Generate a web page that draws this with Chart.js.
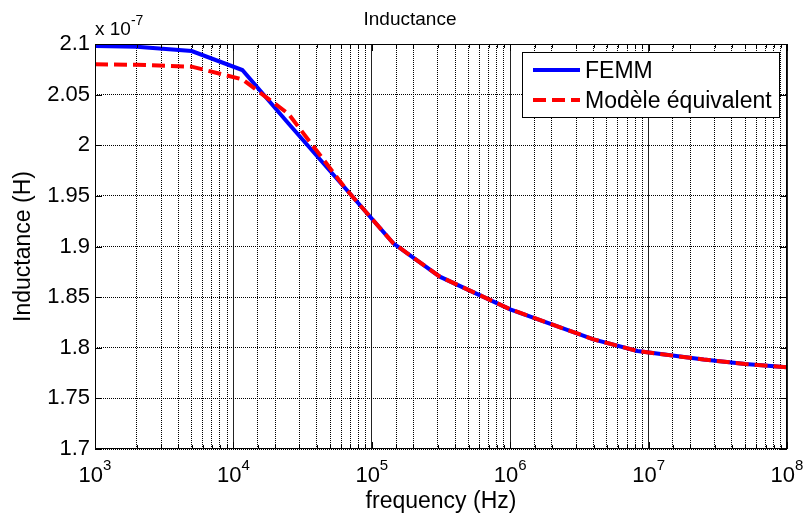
<!DOCTYPE html>
<html>
<head>
<meta charset="utf-8">
<script src="https://cdn.jsdelivr.net/npm/chart.js@4.4.0/dist/chart.umd.min.js"></script>
<style>
html,body{margin:0;padding:0;background:#fff;}
#wrap{width:806px;height:521px;position:relative;}
</style>
</head>
<body>
<div id="wrap"><canvas id="c" width="806" height="521"></canvas></div>
<script>
// ---- data (inductance in units of 1e-7 H) ----
const frequencies = [1e3, 2e3, 5e3, 1.16e4, 2.5e4, 6.5e4, 1.43e5, 3.1e5, 1e6, 4e6, 8.3e6, 2.5e7, 5e7, 1e8];
const femm   = [2.098, 2.0973, 2.093, 2.0743, 2.0215, 1.9568, 1.9032, 1.8702, 1.838, 1.8083, 1.7968, 1.7883, 1.784, 1.7807];
const modele = [2.080, 2.0795, 2.0776, 2.0651, 2.031, 1.9568, 1.9032, 1.8702, 1.838, 1.8083, 1.7968, 1.7883, 1.784, 1.7807];
const seriesNames = ['FEMM', 'Modèle équivalent'];
const yTickValues = [1.7, 1.75, 1.8, 1.85, 1.9, 1.95, 2, 2.05, 2.1];
const xDecadeExponents = [3, 4, 5, 6, 7, 8];
const yExponentLabel = '-7';
const chartTitle = 'Inductance';
const xTitle = 'frequency (Hz)';
const yTitle = 'Inductance (H)';

const FONT = "'Liberation Sans', Arial, Helvetica, sans-serif";
const isDecade = v => v > 0 && Math.abs(Math.log10(v) - Math.round(Math.log10(v))) < 1e-9;

const overlay = {
  id: 'overlay',
  afterDatasetsDraw(chart) {
    const {ctx, chartArea: a, scales: {x, y}} = chart;
    ctx.save();
    ctx.strokeStyle = '#000';
    ctx.lineWidth = 1;
    ctx.setLineDash([]);
    // inward ticks
    ctx.beginPath();
    yTickValues.forEach(v => {
      const py = Math.round(y.getPixelForValue(v)) + 0.5;
      ctx.moveTo(a.left, py); ctx.lineTo(a.left + 7, py);
      ctx.moveTo(a.right - 7, py); ctx.lineTo(a.right, py);
    });
    x.ticks.forEach(t => {
      const px = Math.round(x.getPixelForValue(t.value)) + 0.5;
      const len = isDecade(t.value) ? 7 : 4;
      ctx.moveTo(px, a.bottom); ctx.lineTo(px, a.bottom - len);
      ctx.moveTo(px, a.top); ctx.lineTo(px, a.top + len);
    });
    ctx.stroke();
    // box
    ctx.strokeRect(Math.round(a.left) + 0.5, Math.round(a.top) + 0.5,
                   Math.round(a.right - a.left) - 1, Math.round(a.bottom - a.top) - 1);

    ctx.fillStyle = '#000';
    ctx.textBaseline = 'alphabetic';

    // title
    ctx.textAlign = 'center';
    ctx.font = '19px ' + FONT;
    ctx.fillText(chartTitle, 410, 25);

    // x tick labels 10^n
    ctx.textAlign = 'left';
    xDecadeExponents.forEach(e => {
      const px = x.getPixelForValue(Math.pow(10, e));
      ctx.font = '22px ' + FONT;
      const w1 = ctx.measureText('10').width;
      ctx.font = '15px ' + FONT;
      const w2 = ctx.measureText(String(e)).width;
      const sx = px - (w1 + w2) / 2;
      ctx.font = '22px ' + FONT;
      ctx.fillText('10', sx, 482);
      ctx.font = '15px ' + FONT;
      ctx.fillText(String(e), sx + w1, 470);
    });

    // multiplier label
    ctx.font = '19px ' + FONT;
    const wx = ctx.measureText('x 10').width;
    ctx.fillText('x 10', a.left, 35);
    ctx.font = '14px ' + FONT;
    ctx.fillText(yExponentLabel, a.left + wx, 25);

    // legend
    const lx = 522.5, ly = 52.5, lw = 257, lh = 65;
    ctx.fillStyle = '#fff';
    ctx.fillRect(lx, ly, lw, lh);
    ctx.strokeStyle = '#000';
    ctx.lineWidth = 1;
    ctx.strokeRect(lx, ly, lw, lh);
    chart.data.datasets.forEach((ds, i) => {
      const yy = [70, 100][i];
      ctx.beginPath();
      ctx.strokeStyle = ds.borderColor;
      ctx.lineWidth = ds.borderWidth;
      ctx.setLineDash(ds.borderDash || []);
      ctx.moveTo(533, yy); ctx.lineTo(580, yy);
      ctx.stroke();
      ctx.setLineDash([]);
      ctx.fillStyle = '#000';
      ctx.font = '23px ' + FONT;
      ctx.fillText(ds.label, 585, yy + 8);
    });
    ctx.restore();
  }
};

new Chart(document.getElementById('c'), {
  type: 'line',
  data: {
    labels: frequencies,
    datasets: [
      {
        label: seriesNames[0],
        data: frequencies.map((f, i) => ({x: f, y: femm[i]})),
        borderColor: '#0000ff',
        borderWidth: 4,
        pointRadius: 0,
        tension: 0,
        fill: false,
        order: 2
      },
      {
        label: seriesNames[1],
        data: frequencies.map((f, i) => ({x: f, y: modele[i]})),
        borderColor: '#ff0000',
        borderWidth: 4,
        borderDash: [13, 6],
        pointRadius: 0,
        tension: 0,
        fill: false,
        order: 1
      }
    ]
  },
  options: {
    responsive: false,
    animation: false,
    devicePixelRatio: 1,
    layout: {padding: {left: 0, right: 19, top: 44, bottom: 0}},
    plugins: {
      legend: {display: false},
      tooltip: {enabled: false},
      title: {display: false, text: chartTitle}
    },
    scales: {
      x: {
        type: 'logarithmic',
        min: 1e3,
        max: 1e8,
        afterFit(s) { s.height = 72; },
        ticks: {display: false, autoSkip: false},
        grid: {
          drawTicks: false,
          color: c => (c.tick && isDecade(c.tick.value)) ? '#222' : '#000',
          lineWidth: 1
        },
        border: {
          display: false,
          dash: c => (c.tick && isDecade(c.tick.value)) ? [] : [1, 1]
        },
        title: {
          display: true,
          text: xTitle,
          color: '#000',
          font: {family: FONT, size: 23},
          padding: {top: 0, bottom: 6}
        }
      },
      y: {
        type: 'linear',
        min: 1.7,
        max: 2.1,
        afterFit(s) { s.width = 95; },
        afterBuildTicks(s) { s.ticks = yTickValues.map(v => ({value: v})); },
        ticks: {
          color: '#000',
          padding: 5,
          font: {family: FONT, size: 22},
          callback: v => String(Math.round(v * 100) / 100)
        },
        grid: {
          drawTicks: false,
          color: '#000',
          lineWidth: 1
        },
        border: {display: false, dash: [1, 1]},
        title: {
          display: true,
          text: yTitle,
          color: '#000',
          font: {family: FONT, size: 23},
          padding: {top: 10, bottom: 0}
        }
      }
    }
  },
  plugins: [overlay]
});
</script>
</body>
</html>
